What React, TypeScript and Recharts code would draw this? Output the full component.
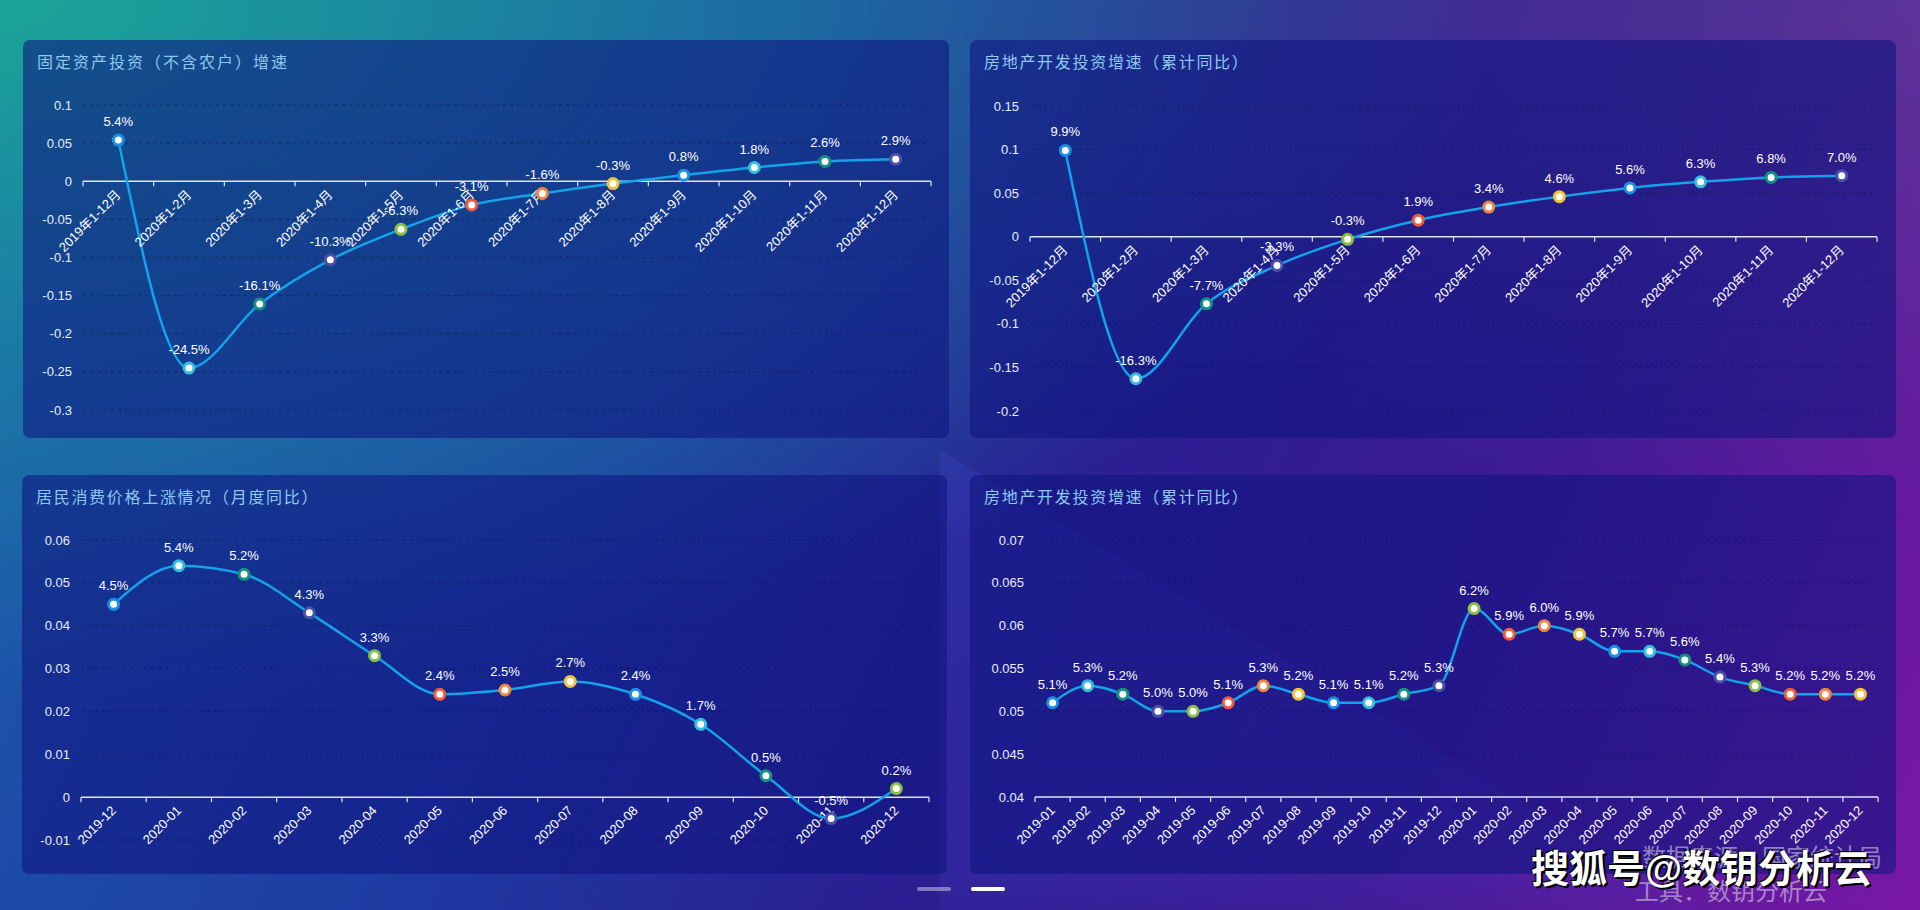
import React from "react";
import { LineChart, Line, XAxis, YAxis, CartesianGrid, ReferenceLine, ReferenceDot, LabelList } from "recharts";

const DOT_COLORS = ["#1b8fe6", "#35bde0", "#17917f", "#4a4fa8", "#8abf45", "#ef5b3b", "#f0833e", "#f0c23c"];
const FONT = "'Liberation Sans', 'Noto Sans CJK SC', sans-serif";

// 固定资产投资 / 房地产开发投资 (累计)
const cumMonths = ["2019年1-12月", "2020年1-2月", "2020年1-3月", "2020年1-4月", "2020年1-5月", "2020年1-6月", "2020年1-7月", "2020年1-8月", "2020年1-9月", "2020年1-10月", "2020年1-11月", "2020年1-12月"];
const fixedInvest = [0.054, -0.245, -0.161, -0.103, -0.063, -0.031, -0.016, -0.003, 0.008, 0.018, 0.026, 0.029];
const fixedTicks = [0.1, 0.05, 0, -0.05, -0.1, -0.15, -0.2, -0.25, -0.3];
const estateInvest = [0.099, -0.163, -0.077, -0.033, -0.003, 0.019, 0.034, 0.046, 0.056, 0.063, 0.068, 0.07];
const estateTicks = [0.15, 0.1, 0.05, 0, -0.05, -0.1, -0.15, -0.2];

// 居民消费价格
const cpiMonths = ["2019-12", "2020-01", "2020-02", "2020-03", "2020-04", "2020-05", "2020-06", "2020-07", "2020-08", "2020-09", "2020-10", "2020-11", "2020-12"];
const cpiValues = [0.045, 0.054, 0.052, 0.043, 0.033, 0.024, 0.025, 0.027, 0.024, 0.017, 0.005, -0.005, 0.002];
const cpiTicks = [0.06, 0.05, 0.04, 0.03, 0.02, 0.01, 0, -0.01];

// 第四张图 (月度)
const months24 = ["2019-01", "2019-02", "2019-03", "2019-04", "2019-05", "2019-06", "2019-07", "2019-08", "2019-09", "2019-10", "2019-11", "2019-12", "2020-01", "2020-02", "2020-03", "2020-04", "2020-05", "2020-06", "2020-07", "2020-08", "2020-09", "2020-10", "2020-11", "2020-12"];
const monthlyValues = [0.051, 0.053, 0.052, 0.05, 0.05, 0.051, 0.053, 0.052, 0.051, 0.051, 0.052, 0.053, 0.062, 0.059, 0.06, 0.059, 0.057, 0.057, 0.056, 0.054, 0.053, 0.052, 0.052, 0.052];
const monthlyTicks = [0.07, 0.065, 0.06, 0.055, 0.05, 0.045, 0.04];

const fmtPct = (v: any) => (Number(v) * 100).toFixed(1) + "%";

const renderDot = (p: any) => (
  <circle key={"d" + p.index} cx={p.cx} cy={p.cy} r={5} fill="#fff" stroke={DOT_COLORS[p.index % DOT_COLORS.length]} strokeWidth={3} />
);

function AxisTick({ cx, cy, label, band, last }: any) {
  if (cx == null || cy == null) return <g />;
  const ty = cy + 11;
  return (
    <g>
      <line x1={cx - band / 2} x2={cx - band / 2} y1={cy} y2={cy + 5} stroke="#dde5f2" strokeWidth={1.2} />
      {last && <line x1={cx + band / 2} x2={cx + band / 2} y1={cy} y2={cy + 5} stroke="#dde5f2" strokeWidth={1.2} />}
      <text x={cx} y={ty} transform={`rotate(-45 ${cx} ${ty})`} textAnchor="end" dominantBaseline="central" fill="#ffffff" fontSize={13}>
        {label}
      </text>
    </g>
  );
}

function Panel({ left, top, width, height, title, spacing, cats, values, domain, ticks, base, curve, yWidth, margin }: any) {
  const data = cats.map((c: string, i: number) => ({ c, v: values[i] }));
  const band = (width - margin.left - margin.right - yWidth) / cats.length;
  return (
    <div style={{ position: "absolute", left, top, width, height, borderRadius: 7, background: "rgba(16,20,128,0.58)" }}>
      <div style={{ position: "absolute", left: 14, top: 13, fontSize: 16, letterSpacing: spacing, color: "#8ec8f0", lineHeight: "20px", whiteSpace: "nowrap" }}>
        {title}
      </div>
      <div style={{ position: "absolute", left: 0, top: 0 }}>
        <LineChart width={width} height={height} data={data} margin={margin}>
          <CartesianGrid vertical={false} stroke="rgba(8,16,60,0.45)" strokeDasharray="3 4" />
          <XAxis dataKey="c" hide height={0} padding={{ left: band / 2, right: band / 2 }} />
          <YAxis
            type="number"
            domain={domain}
            ticks={ticks}
            interval={0}
            width={yWidth}
            axisLine={false}
            tickLine={false}
            tickSize={0}
            tickMargin={11}
            allowDataOverflow
            tick={{ fill: "#e8eef8", fontSize: 13 }}
          />
          <ReferenceLine y={base} stroke="#dde5f2" strokeWidth={1.5} />
          {cats.map((c: string, i: number) => (
            <ReferenceDot
              key={c}
              x={c}
              y={base}
              r={0}
              ifOverflow="visible"
              shape={(p: any) => <AxisTick cx={p.cx} cy={p.cy} label={c} band={band} last={i === cats.length - 1} />}
            />
          ))}
          <Line type={curve} dataKey="v" stroke="#13a3ea" strokeWidth={2.5} dot={renderDot} activeDot={false} isAnimationActive={false}>
            <LabelList dataKey="v" position="top" offset={14} fill="#ffffff" fontSize={13} formatter={fmtPct} />
          </Line>
        </LineChart>
      </div>
    </div>
  );
}

export default function App() {
  return (
    <div
      style={{
        position: "absolute",
        left: 0,
        top: 0,
        width: 1920,
        height: 910,
        overflow: "hidden",
        fontFamily: FONT,
        background:
          "radial-gradient(ellipse at 0% 0%, rgba(26,168,150,0.95) 0%, rgba(26,150,160,0.6) 25%, rgba(26,120,170,0) 55%), radial-gradient(ellipse at 100% 0%, rgba(120,100,150,0.35) 0%, rgba(120,100,150,0) 40%), linear-gradient(115deg, #1c5fae 0%, #1e3aa2 35%, #2a1f92 55%, #3d1a94 75%, #7a18a6 100%)",
      }}
    >
      {/* soft lighter diagonal wave band behind the lower right panel */}
      <div
        style={{
          position: "absolute",
          left: 0,
          top: 0,
          width: 1920,
          height: 910,
          filter: "blur(18px)",
          clipPath: "polygon(940px 450px, 1700px 910px, 940px 910px)",
          background: "linear-gradient(150deg, rgba(80,90,230,0.26), rgba(80,90,230,0.08))",
        }}
      />
      <Panel
        left={23} top={40} width={926} height={398}
        title="固定资产投资（不含农户）增速" spacing={2}
        cats={cumMonths} values={fixedInvest} domain={[-0.3, 0.1]} ticks={fixedTicks} base={0}
        curve="monotone" yWidth={60} margin={{ top: 65, right: 18, bottom: 28, left: 0 }}
      />
      <Panel
        left={970} top={40} width={926} height={398}
        title="房地产开发投资增速（累计同比）" spacing={1.7}
        cats={cumMonths} values={estateInvest} domain={[-0.2, 0.15]} ticks={estateTicks} base={0}
        curve="monotone" yWidth={60} margin={{ top: 66, right: 19, bottom: 27, left: 0 }}
      />
      <Panel
        left={22} top={475} width={925} height={399}
        title="居民消费价格上涨情况（月度同比）" spacing={1.7}
        cats={cpiMonths} values={cpiValues} domain={[-0.01, 0.06]} ticks={cpiTicks} base={0}
        curve="monotone" yWidth={59} margin={{ top: 65, right: 18, bottom: 34, left: 0 }}
      />
      <Panel
        left={970} top={475} width={926} height={399}
        title="房地产开发投资增速（累计同比）" spacing={1.7}
        cats={months24} values={monthlyValues} domain={[0.04, 0.07]} ticks={monthlyTicks} base={0.04}
        curve="monotone" yWidth={65} margin={{ top: 65, right: 18, bottom: 77, left: 0 }}
      />
      <div style={{ position: "absolute", left: 917, top: 887, width: 34, height: 4, borderRadius: 2, background: "rgba(170,160,210,0.7)" }} />
      <div style={{ position: "absolute", left: 971, top: 887, width: 34, height: 4, borderRadius: 2, background: "#ffffff" }} />
      <div style={{ position: "absolute", left: 1642, top: 845, fontSize: 24, lineHeight: "26px", color: "rgba(225,225,240,0.55)", whiteSpace: "nowrap" }}>
        数据来源：国家统计局
      </div>
      <div style={{ position: "absolute", left: 1635, top: 879, fontSize: 24, lineHeight: "26px", color: "rgba(225,225,240,0.55)", whiteSpace: "nowrap" }}>
        工具：数钥分析云
      </div>
      <div style={{ position: "absolute", left: 1531, top: 849, fontSize: 38, lineHeight: "40px", fontWeight: 700, color: "#ffffff", textShadow: "2px 2px 0 #000, -1px -1px 0 #000", whiteSpace: "nowrap" }}>
        搜狐号@数钥分析云
      </div>
    </div>
  );
}
